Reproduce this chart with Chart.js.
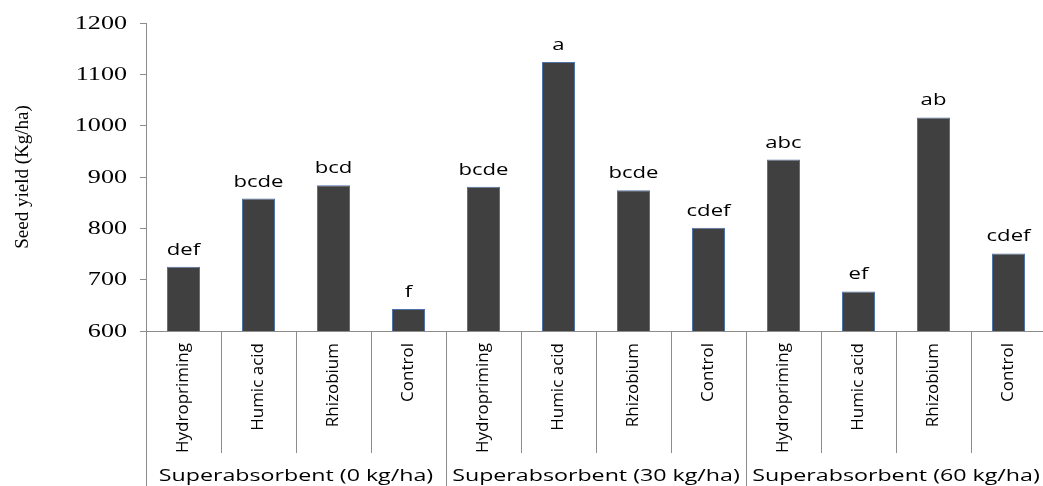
<!DOCTYPE html>
<html>
<head>
<meta charset="utf-8">
<script src="https://cdn.jsdelivr.net/npm/chart.js@4.4.1/dist/chart.umd.min.js"></script>
<style>
  html, body { margin: 0; padding: 0; background: #fff; overflow: hidden; }
</style>
</head>
<body>
<canvas id="myChart" width="1046" height="486"></canvas>
<script>
// data
const treatments = ['Hydropriming', 'Humic acid', 'Rhizobium', 'Control',
  'Hydropriming', 'Humic acid', 'Rhizobium', 'Control',
  'Hydropriming', 'Humic acid', 'Rhizobium', 'Control'];
const groups = ['Superabsorbent (0 kg/ha)', 'Superabsorbent (30 kg/ha)', 'Superabsorbent (60 kg/ha)'];
const seedYield = [725, 858, 884, 643, 881, 1124, 874, 801, 934, 677, 1016, 751];
const letters = ['def', 'bcde', 'bcd', 'f', 'bcde', 'a', 'bcde', 'cdef', 'abc', 'ef', 'ab', 'cdef'];
const yMin = 600, yMax = 1200, yStep = 100;

const axisColor = '#8c8c8c';

// text in the original is stretched sideways, so draw it with a horizontal scale
function wideText(ctx, text, x, y, align, sx) {
  ctx.save();
  ctx.translate(x, y);
  ctx.scale(sx, 1);
  ctx.textAlign = align;
  ctx.fillText(text, 0, 0);
  ctx.restore();
}

const extras = {
  id: 'extras',
  afterDraw(chart) {
    const ctx = chart.ctx;
    const x = chart.scales.x;
    const y = chart.scales.y;
    const half = (x.getPixelForValue(1) - x.getPixelForValue(0)) / 2;
    const h = chart.height;

    // category and group separators under the axis
    ctx.save();
    ctx.strokeStyle = axisColor;
    ctx.lineWidth = 1;
    for (let i = 0; i <= treatments.length; i++) {
      const bx = i < treatments.length ? x.getPixelForValue(i) - half : x.getPixelForValue(i - 1) + half;
      const px = Math.round(bx) + 0.5;
      ctx.beginPath();
      ctx.moveTo(px, y.bottom);
      ctx.lineTo(px, i % 4 === 0 ? h : y.bottom + 122);
      ctx.stroke();
    }
    ctx.restore();

    ctx.save();
    ctx.fillStyle = '#000';
    // y tick labels
    ctx.font = '18px "Liberation Serif"';
    ctx.textBaseline = 'middle';
    y.ticks.forEach((t, i) => {
      wideText(ctx, String(t.value), y.left + 127, y.getPixelForTick(i) + 1, 'right', 1.45);
    });

    // letters above bars
    ctx.font = '16px "Open Sans"';
    ctx.textBaseline = 'alphabetic';
    chart.getDatasetMeta(0).data.forEach((bar, i) => {
      wideText(ctx, letters[i], bar.x, bar.y - 12, 'center', 1.38);
    });

    // group labels
    groups.forEach((g, k) => {
      const left = x.getPixelForValue(k * 4) - half;
      const right = x.getPixelForValue(k * 4 + 3) + half;
      wideText(ctx, g, (left + right) / 2, h - 5, 'center', 1.45);
    });
    ctx.restore();
  }
};

new Chart(document.getElementById('myChart'), {
  type: 'bar',
  data: {
    labels: treatments,
    datasets: [{
      data: seedYield,
      backgroundColor: '#404040',
      borderColor: '#4f72a8',
      borderWidth: 1,
      categoryPercentage: 1,
      barPercentage: 0.44
    }]
  },
  options: {
    responsive: false,
    animation: false,
    events: [],
    layout: { padding: { top: 23, left: 0, right: 0, bottom: 0 } },
    plugins: {
      legend: { display: false },
      tooltip: { enabled: false }
    },
    scales: {
      x: {
        grid: { display: true, drawOnChartArea: false, drawTicks: false },
        border: { display: true, color: axisColor },
        ticks: {
          autoSkip: false,
          minRotation: 90,
          maxRotation: 90,
          padding: 12,
          color: '#000',
          font: { family: 'Open Sans', size: 17 }
        },
        afterFit(scale) { scale.height = 155; }
      },
      y: {
        min: yMin,
        max: yMax,
        grid: { drawOnChartArea: false, drawTicks: true, tickLength: 6, color: axisColor },
        border: { display: true, color: axisColor },
        ticks: { stepSize: yStep, display: false },
        title: {
          display: true,
          text: 'Seed yield (Kg/ha)',
          color: '#000',
          font: { family: 'Liberation Serif', size: 19 },
          padding: { top: 12, bottom: 0 }
        },
        afterFit(scale) { scale.width = 146; }
      }
    }
  },
  plugins: [extras]
});
</script>
</body>
</html>
